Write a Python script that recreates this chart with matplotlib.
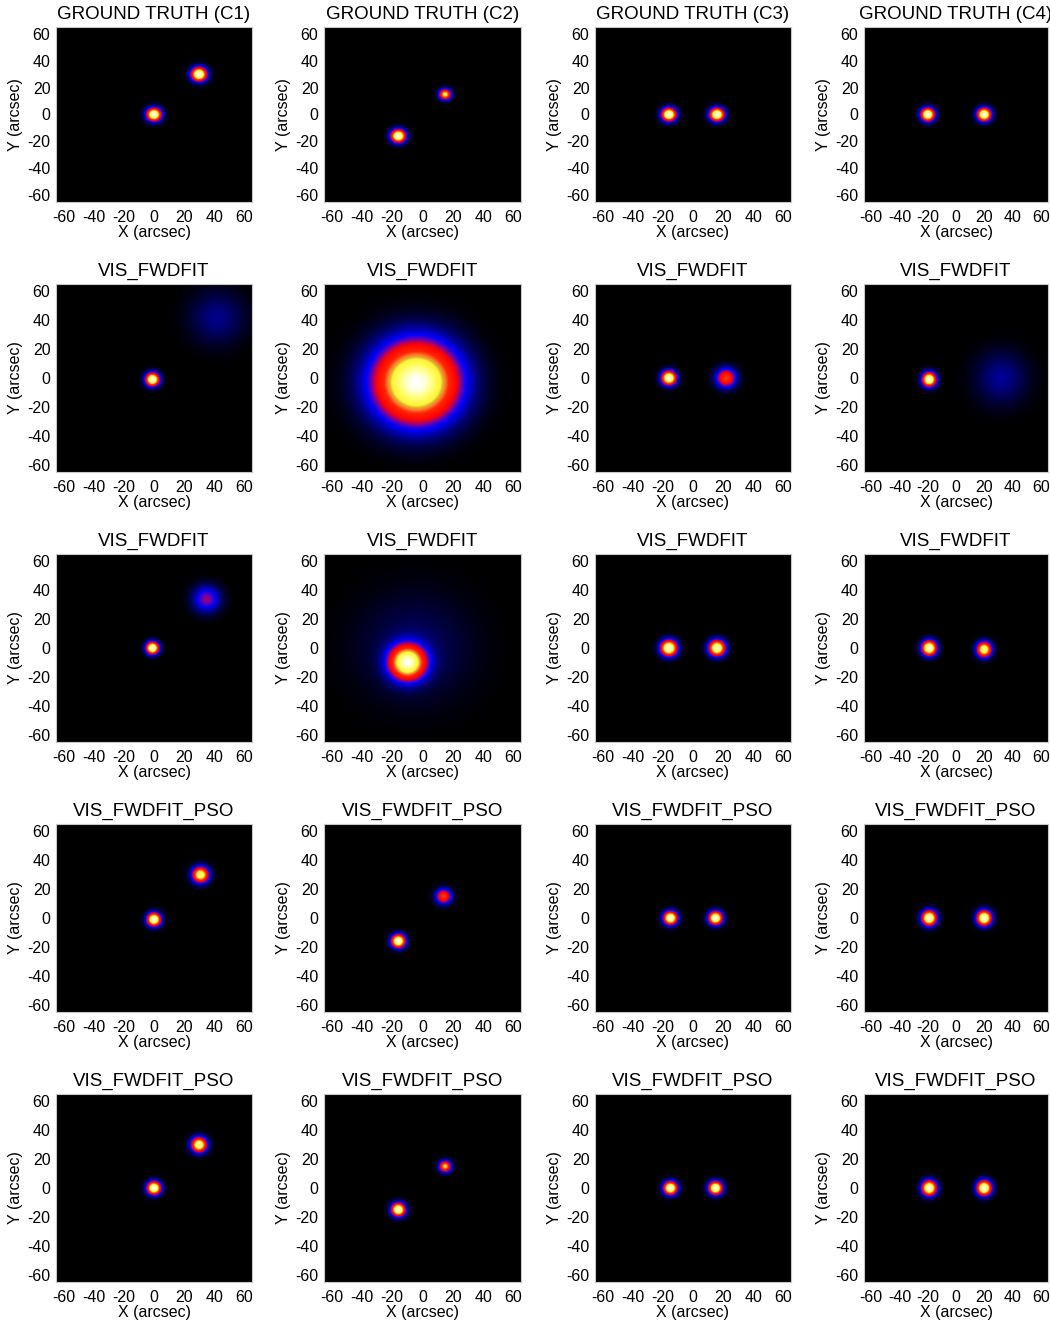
import numpy as np
import matplotlib
matplotlib.use("Agg")
import matplotlib.pyplot as plt
from matplotlib.colors import LinearSegmentedColormap

plt.rcParams['font.family'] = ['Liberation Sans', 'DejaVu Sans']
plt.rcParams['axes.unicode_minus'] = False

# ---------------- data ----------------
titles = [
    ["GROUND TRUTH (C1)", "GROUND TRUTH (C2)", "GROUND TRUTH (C3)", "GROUND TRUTH (C4)"],
    ["VIS_FWDFIT"] * 4,
    ["VIS_FWDFIT"] * 4,
    ["VIS_FWDFIT_PSO"] * 4,
    ["VIS_FWDFIT_PSO"] * 4,
]
tick_values = [-60, -40, -20, 0, 20, 40, 60]
x_label = "X (arcsec)"
y_label = "Y (arcsec)"

# source parameters per panel: x centre, y centre, FWHM (arcsec), relative amplitude
src_x = [
    [[0, 30], [-16, 15], [-16, 16], [-20, 20]],
    [[-1, 42], [-4], [-16, 22], [-19, 32]],
    [[-1, 35], [-10, -5], [-16, 16], [-19, 20]],
    [[0, 31], [-16, 14], [-15, 15], [-19, 20]],
    [[0, 30], [-16, 15], [-15, 15], [-19, 20]],
]
src_y = [
    [[0, 30], [-16, 15], [0, 0], [0, 0]],
    [[-1, 42], [-3], [0, 0], [-1, 0]],
    [[0, 34], [-10, 0], [0, 0], [0, -1]],
    [[-1, 30], [-16, 15], [0, 0], [0, 0]],
    [[0, 30], [-15, 15], [0, 0], [0, 0]],
]
src_fwhm = [
    [[8, 8.5], [8, 6.5], [8, 8], [8, 8]],
    [[7.5, 30], [45], [8, 11], [8, 30]],
    [[7, 15], [19, 60], [9, 9], [8.5, 8.5]],
    [[7.5, 9], [7.5, 8.5], [7.5, 7.5], [8.5, 8.5]],
    [[7.5, 8.5], [7.5, 6.5], [7.5, 7.5], [8.5, 8.5]],
]
src_amp = [
    [[1.0, 1.0], [1.0, 0.75], [1.0, 1.0], [1.0, 1.0]],
    [[1.0, 0.12], [1.0], [1.0, 0.55], [1.0, 0.13]],
    [[1.0, 0.32], [1.0, 0.1], [1.0, 0.95], [1.0, 0.88]],
    [[1.0, 0.85], [1.0, 0.55], [1.0, 1.0], [1.0, 1.0]],
    [[1.0, 0.9], [1.0, 0.7], [1.0, 1.0], [1.0, 1.0]],
]

# ---------------- colormap ----------------
cmap = LinearSegmentedColormap.from_list("bluered_hot", [
    (0.00, (0.0, 0.0, 0.0)),
    (0.08, (0.0, 0.0, 0.35)),
    (0.22, (0.0, 0.0, 1.0)),
    (0.31, (0.55, 0.0, 0.55)),
    (0.38, (1.0, 0.0, 0.0)),
    (0.53, (1.0, 0.15, 0.0)),
    (0.61, (1.0, 0.5, 0.2)),
    (0.655, (0.85, 0.7, 0.15)),
    (0.70, (1.0, 0.95, 0.2)),
    (0.85, (1.0, 1.0, 0.45)),
    (1.00, (1.0, 1.0, 1.0)),
])

# ---------------- layout (pixels) ----------------
W, H = 1050, 1323
fig = plt.figure(figsize=(W / 100, H / 100), dpi=100)
col_left = [56, 324, 595, 864]
col_width = [196, 197, 196, 184]
row_top = [27, 284, 554, 824, 1094]
row_height = [175, 188, 188, 188, 188]

lim = 65
grid = np.linspace(-lim, lim, 261)
XX, YY = np.meshgrid(grid, grid)

for r in range(5):
    for c in range(4):
        l = col_left[c] / W
        b = 1 - (row_top[r] + row_height[r]) / H
        ax = fig.add_axes([l, b, col_width[c] / W, row_height[r] / H])
        img = np.zeros_like(XX)
        for x0, y0, f, a in zip(src_x[r][c], src_y[r][c], src_fwhm[r][c], src_amp[r][c]):
            img += a * np.exp(-4 * np.log(2) * ((XX - x0) ** 2 + (YY - y0) ** 2) / f ** 2)
        img /= img.max()
        ax.imshow(img, extent=[-lim, lim, -lim, lim], origin="lower", cmap=cmap,
                  vmin=0, vmax=1, aspect="auto", interpolation="bilinear")
        ax.set_xlim(-lim, lim)
        ax.set_ylim(-lim, lim)
        ax.set_xticks(tick_values)
        ax.set_yticks(tick_values)
        ax.tick_params(length=0, labelsize=11.5)
        ax.tick_params(axis="x", pad=6)
        ax.tick_params(axis="y", pad=4)
        for s in ax.spines.values():
            s.set_color("#c8c8c8")
            s.set_linewidth(0.8)
        ax.set_title(titles[r][c], fontsize=13.5, pad=6)
        ax.set_xlabel(x_label, fontsize=11.5, labelpad=0)
        ax.set_ylabel(y_label, fontsize=11.5, labelpad=3)

fig.savefig("out.png", dpi=100)
